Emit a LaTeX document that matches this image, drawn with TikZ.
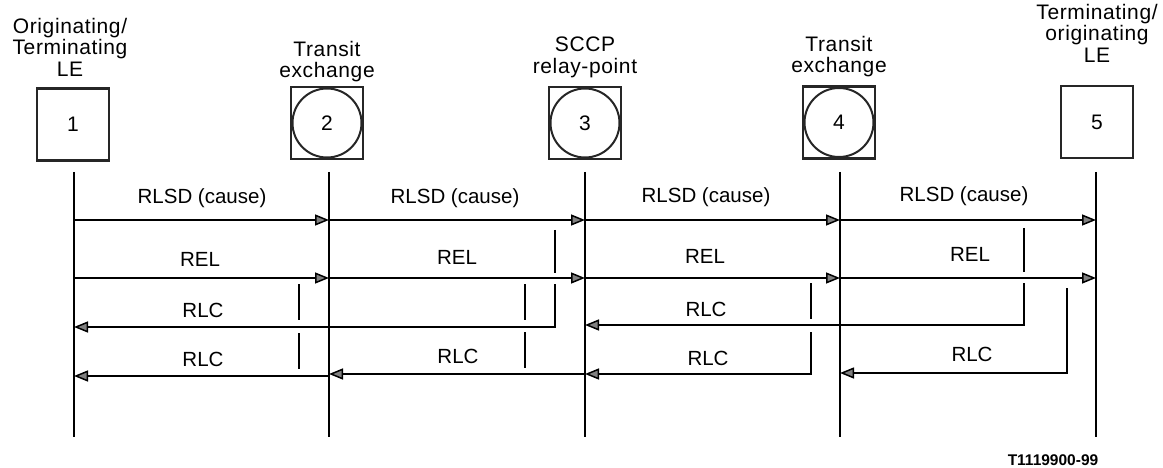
\documentclass[tikz,border=0pt]{standalone}
\usepackage{fontspec}
\setmainfont{Liberation Sans}
\newfontfamily\titlefont[LetterSpace=3]{Liberation Sans}
\usetikzlibrary{arrows.meta}
\tikzset{
  lifeline/.style={line width=1.3pt, black},
  msg/.style={line width=1.5pt, black, -{Triangle[length=14pt,width=11pt,fill=black!50]}},
  tickline/.style={line width=1.5pt, black},
  lbl/.style={font=\fontsize{20.5}{22}\selectfont, inner sep=0pt},
  title/.style={font=\titlefont\fontsize{21}{21.5}\selectfont, align=center, inner sep=0pt, anchor=north},
  ent/.style={draw=black!85, line width=2.4pt, minimum size=72pt, inner sep=0pt, font=\fontsize{21}{22}\selectfont},
  relay/.style={draw=black!85, line width=2pt},
  refcode/.style={font=\bfseries\fontsize{15.5}{17}\selectfont, inner sep=0pt}
}
\begin{document}
\begin{tikzpicture}[x=1pt,y=-1pt]
\useasboundingbox (0,0) rectangle (1163,468);

% entities
\node[ent] (n1) at (73,124.5) {1};
\node[ent] (n2) at (327,123) {2};
\node[ent] (n3) at (585,123) {3};
\node[ent] (n4) at (839,122.5) {4};
\node[ent] (n5) at (1097,122) {5};
\draw[relay] (n2.center) circle (34.5pt);
\draw[relay] (n3.center) circle (34.5pt);
\draw[relay] (n4.center) circle (34.5pt);

% titles
\node[title] (t1) at (70,18) {Originating/\\Terminating\\LE};
\node[title] (t2) at (327,41) {Transit\\exchange};
\node[title] (t3) at (585,37) {SCCP\\relay-point};
\node[title] (t4) at (839,36) {Transit\\exchange};
\node[title] (t5) at (1097,4) {Terminating/\\originating\\LE};

% lifelines
\coordinate (L1) at (74,172);  \coordinate (B1) at (74,437);
\coordinate (L2) at (329,172); \coordinate (B2) at (329,437);
\coordinate (L3) at (585,172); \coordinate (B3) at (585,437);
\coordinate (L4) at (840,172); \coordinate (B4) at (840,437);
\coordinate (L5) at (1096,172); \coordinate (B5) at (1096,437);
\foreach \i in {1,...,5} \draw[lifeline] (L\i) -- (B\i);

% row levels
\coordinate (yA) at (0,220);
\coordinate (yB) at (0,278);
\coordinate (yC) at (0,327);
\coordinate (yCr) at (0,325);
\coordinate (yD) at (0,376);
\coordinate (yDr) at (0,374);

% RLSD
\draw[msg] (L1 |- yA) -- (L2 |- yA);
\draw[msg] (L2 |- yA) -- (L3 |- yA);
\draw[msg] (L3 |- yA) -- (L4 |- yA);
\draw[msg] (L4 |- yA) -- (L5 |- yA);
\node[lbl] (a1) at (202,198) {RLSD (cause)};
\node[lbl] (a2) at (455,198) {RLSD (cause)};
\node[lbl] (a3) at (706,197) {RLSD (cause)};
\node[lbl] (a4) at (964,196) {RLSD (cause)};

% REL
\draw[msg] (L1 |- yB) -- (L2 |- yB);
\draw[msg] (L2 |- yB) -- (L3 |- yB);
\draw[msg] (L3 |- yB) -- (L4 |- yB);
\draw[msg] (L4 |- yB) -- (L5 |- yB);
\node[lbl] (r1) at (200,259) {REL};
\node[lbl] (r2) at (457,257) {REL};
\node[lbl] (r3) at (705,256) {REL};
\node[lbl] (r4) at (970,254) {REL};

% RLC from x=555 to line 1
\coordinate (p1a) at (555,230); \coordinate (p1b) at (555,273); \coordinate (p1c) at (555,284);
\draw[tickline] (p1a) -- (p1b);
\draw[msg] (p1c) |- (L1 |- yC);
\node[lbl] (c1) at (203,310) {RLC};

% RLC from x=1024 to line 3
\coordinate (p2a) at (1024,228); \coordinate (p2b) at (1024,272); \coordinate (p2c) at (1024,283);
\draw[tickline] (p2a) -- (p2b);
\draw[msg] (p2c) |- (L3 |- yCr);
\node[lbl] (c2) at (706,309) {RLC};

% ticks at x=299 and x=525
\coordinate (q1a) at (299,284); \coordinate (q1b) at (299,320);
\coordinate (q1c) at (299,333); \coordinate (q1d) at (299,369);
\draw[tickline] (q1a) -- (q1b);
\draw[tickline] (q1c) -- (q1d);
\coordinate (q2a) at (525,284); \coordinate (q2b) at (525,320);
\coordinate (q2c) at (525,332); \coordinate (q2d) at (525,368);
\draw[tickline] (q2a) -- (q2b);
\draw[tickline] (q2c) -- (q2d);

% RLC from x=811 to line 3
\coordinate (p3a) at (811,283); \coordinate (p3b) at (811,319); \coordinate (p3c) at (811,332);
\draw[tickline] (p3a) -- (p3b);
\draw[msg] (p3c) |- (L3 |- yDr);
\node[lbl] (c5) at (708,358) {RLC};

% RLC from x=1067 to line 4
\coordinate (p4a) at (1067,288);
\draw[msg] (p4a) |- (L4 |- 0,373);
\node[lbl] (c6) at (972,354) {RLC};

% RLC row 2 left part
\draw[msg] (L2 |- yD) -- (L1 |- yD);
\node[lbl] (c3) at (203,359) {RLC};
\draw[msg] (L3 |- yDr) -- (L2 |- yDr);
\node[lbl] (c4) at (458,356) {RLC};

\node[refcode] (code) at (1053,460) {T1119900-99};
\end{tikzpicture}
\end{document}
